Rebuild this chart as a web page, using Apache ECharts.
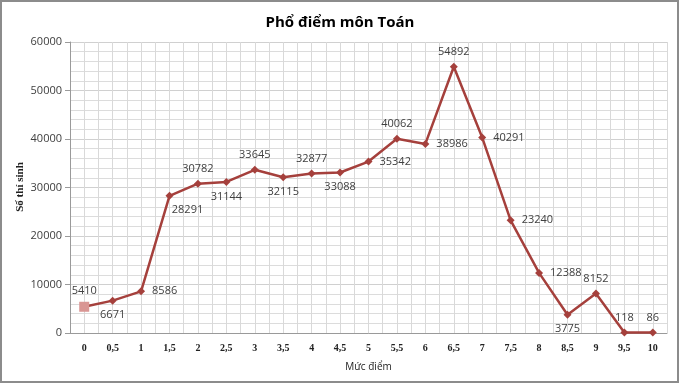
<!DOCTYPE html>
<html>
<head>
<meta charset="utf-8">
<script src="https://cdn.jsdelivr.net/npm/echarts@6/dist/echarts.min.js"></script>
<style>
html,body{margin:0;padding:0;background:#fff;}
#chart{width:680px;height:384px;}
</style>
</head>
<body>
<div id="chart"></div>
<script>
const categories = ['0','0,5','1','1,5','2','2,5','3','3,5','4','4,5','5','5,5','6','6,5','7','7,5','8','8,5','9','9,5','10'];
const counts = [5410,6671,8586,28291,30782,31144,33645,32115,32877,33088,35342,40062,38986,54892,40291,23240,12388,3775,8152,118,86];
const labelPositions = ['top','bottom','right','bottom','top','bottom','top','bottom','top','bottom','right','top','right','top','right','right','right','bottom','top','top','top'];
const yTicks = [0,10000,20000,30000,40000,50000,60000];
const yAxisTitle = 'Số thí sinh';

const lineColor = '#a5403c';
const data = counts.map((v, i) => {
  const pos = labelPositions[i];
  const d = {
    value: v,
    label: { position: pos, distance: pos === 'right' ? 7 : 5 }
  };
  if (pos === 'bottom' && i === 3) d.label.offset = [18, 0];
  if (i === 0) {
    d.symbol = 'rect';
    d.symbolSize = 10;
    d.itemStyle = { color: '#d99694' };
  }
  return d;
});

const chart = echarts.init(document.getElementById('chart'), null, { renderer: 'canvas' });
chart.setOption({
  animation: false,
  backgroundColor: '#fff',
  title: {
    text: 'Phổ điểm môn Toán',
    left: 'center',
    top: 10,
    textStyle: { fontFamily: 'Open Sans', fontWeight: 'bold', fontSize: 15, color: '#000' }
  },
  graphic: [{
    type: 'rect',
    shape: { x: 1, y: 1, width: 677, height: 381 },
    style: { fill: 'none', stroke: '#8c8c8c', lineWidth: 2 },
    silent: true
  }, {
    type: 'text',
    x: 20,
    y: 187,
    rotation: Math.PI / 2,
    style: {
      text: yAxisTitle,
      fontFamily: 'Liberation Serif',
      fontWeight: 'bold',
      fontSize: 11,
      fill: '#222',
      align: 'center',
      verticalAlign: 'middle'
    },
    silent: true
  }],
  grid: { left: 70, right: 13, top: 42, bottom: 51, containLabel: false },
  xAxis: [{
    type: 'category',
    data: categories,
    boundaryGap: true,
    name: 'Mức điểm',
    nameLocation: 'middle',
    nameGap: 29,
    nameTextStyle: { fontFamily: 'Open Sans', fontSize: 10, color: '#222' },
    axisLine: { lineStyle: { color: '#9a9a9a' } },
    axisTick: { show: false },
    axisLabel: { interval: 0, margin: 10, fontFamily: 'Liberation Serif', fontWeight: 'bold', fontSize: 10, color: '#222' },
    splitLine: { show: false }
  }, {
    type: 'value',
    min: 0,
    max: 42,
    interval: 1,
    position: 'bottom',
    show: true,
    axisLine: { show: false },
    axisTick: { show: false },
    axisLabel: { show: false },
    splitLine: { show: true, lineStyle: { color: '#d9d9d9', width: 1 } }
  }],
  yAxis: {
    type: 'value',
    min: yTicks[0],
    max: yTicks[yTicks.length - 1],
    interval: 10000,
    axisLine: { show: true, lineStyle: { color: '#9a9a9a' } },
    axisTick: { show: true, length: 5, lineStyle: { color: '#9a9a9a' } },
    axisLabel: { margin: 8, fontFamily: 'Open Sans', fontSize: 11, color: '#404040', formatter: v => String(v) },
    splitLine: { show: true, lineStyle: { color: '#d0d0d0' } },
    minorTick: { show: false, splitNumber: 5 },
    minorSplitLine: { show: true, lineStyle: { color: '#dcdcdc' } }
  },
  series: [{
    type: 'line',
    xAxisIndex: 0,
    data: data,
    symbol: 'diamond',
    symbolSize: 8,
    lineStyle: { color: lineColor, width: 2.5 },
    itemStyle: { color: lineColor },
    label: { show: true, fontFamily: 'Open Sans', fontSize: 11, color: '#404040' },
    z: 5
  }]
});
</script>
</body>
</html>
